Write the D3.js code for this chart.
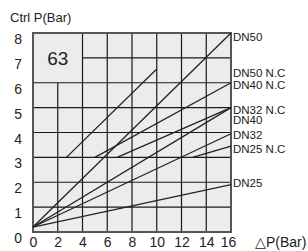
<!DOCTYPE html>
<html>
<head>
<meta charset="utf-8">
<script src="https://cdn.jsdelivr.net/npm/d3@7"></script>
<style>
  body { margin: 0; background: #fff; }
  text { font-family: "Liberation Sans", Arial, sans-serif; fill: #222; }
</style>
</head>
<body>
<div id="chart"></div>
<script>
// curve data (dP in bar -> ctrl P in bar)
var lineNames = ["DN50", "DN50 N.C", "DN40 N.C", "DN32 N.C", "DN40", "DN32", "DN25 N.C", "DN25"];
var startX = [0, 2.7, 5, 6.8, 0, 0, 12.9, 0];
var startY = [0.2, 3, 3, 3, 0.2, 0.2, 3, 0.2];
var endX = [16, 10, 16, 16, 16, 16, 16, 16];
var endY = [8, 6.55, 6, 5, 5, 3.95, 3.45, 1.9];
// where each name sits on the right side (in bar)
var labelAt = [7.85, 6.4, 5.92, 4.92, 4.5, 3.9, 3.35, 1.97];

var xTicks = [0, 2, 4, 6, 8, 10, 12, 14, 16];
var yTicks = [0, 1, 2, 3, 4, 5, 6, 7, 8];

var margin = {top: 33, right: 77, bottom: 19, left: 33},
    width = 308 - margin.left - margin.right,
    height = 251 - margin.top - margin.bottom;

var svg = d3.select("#chart")
  .append("svg")
    .attr("width", 308)
    .attr("height", 251);

var g = svg.append("g")
    .attr("transform", "translate(" + margin.left + "," + margin.top + ")");

var x = d3.scaleLinear().domain([0, 16]).range([0, width]);
var y = d3.scaleLinear().domain([0, 8]).range([height, 0]);

// plot background
g.append("rect")
  .attr("width", width)
  .attr("height", height)
  .attr("fill", "#ececec");

// grid - the top left cell is left open for the "63" tag
g.selectAll(".vgrid")
  .data(xTicks.slice(1, -1))
  .enter().append("line")
    .attr("x1", function(d) { return x(d); })
    .attr("x2", function(d) { return x(d); })
    .attr("y1", y(0))
    .attr("y2", function(d) { return d == 2 ? y(6) : y(8); })
    .attr("stroke", "#1a1a1a")
    .attr("stroke-width", 1.2);

g.selectAll(".hgrid")
  .data(yTicks.slice(1, -1))
  .enter().append("line")
    .attr("x1", function(d) { return d == 7 ? x(4) : x(0); })
    .attr("x2", x(16))
    .attr("y1", function(d) { return y(d); })
    .attr("y2", function(d) { return y(d); })
    .attr("stroke", "#1a1a1a")
    .attr("stroke-width", 1.2);

// frame
g.append("rect")
  .attr("width", width)
  .attr("height", height)
  .attr("fill", "none")
  .attr("stroke", "#555")
  .attr("stroke-width", 2);

// the curves
g.selectAll(".curve")
  .data(lineNames)
  .enter().append("line")
    .attr("x1", function(d, i) { return x(startX[i]); })
    .attr("y1", function(d, i) { return y(startY[i]); })
    .attr("x2", function(d, i) { return x(endX[i]); })
    .attr("y2", function(d, i) { return y(endY[i]); })
    .attr("stroke", "#222")
    .attr("stroke-width", 1.3);

// names on the right
g.selectAll(".name")
  .data(lineNames)
  .enter().append("text")
    .attr("x", width + 2)
    .attr("y", function(d, i) { return y(labelAt[i]); })
    .attr("dy", "0.35em")
    .style("font-size", "11.5px")
    .text(function(d) { return d; });

// axes (labels only, the frame makes the lines)
var xAxis = g.append("g")
  .attr("transform", "translate(0," + height + ")")
  .call(d3.axisBottom(x).tickValues(xTicks).tickSize(0).tickPadding(5));
var yAxis = g.append("g")
  .call(d3.axisLeft(y).tickValues(yTicks).tickSize(0).tickPadding(11));
[xAxis, yAxis].forEach(function(a) {
  a.select(".domain").remove();
  a.selectAll("text")
    .style("font-size", "14px")
    .style("font-family", "'Liberation Sans', Arial, sans-serif")
    .attr("fill", "#222");
});
yAxis.selectAll("text").attr("dy", "0.75em");
// last x label sits a little inside the edge
xAxis.selectAll(".tick text").attr("dx", function(d) { return d == 16 ? -3 : 0; });

// titles
svg.append("text")
  .attr("x", 10)
  .attr("y", 22)
  .style("font-size", "13px")
  .text("Ctrl P(Bar)");

svg.append("text")
  .attr("x", 255)
  .attr("y", 247)
  .style("font-size", "14px")
  .text("\u25B3P(Bar)");

g.append("text")
  .attr("x", x(2))
  .attr("y", y(7))
  .attr("dy", "0.36em")
  .attr("text-anchor", "middle")
  .style("font-size", "19px")
  .text("63");
</script>
</body>
</html>
